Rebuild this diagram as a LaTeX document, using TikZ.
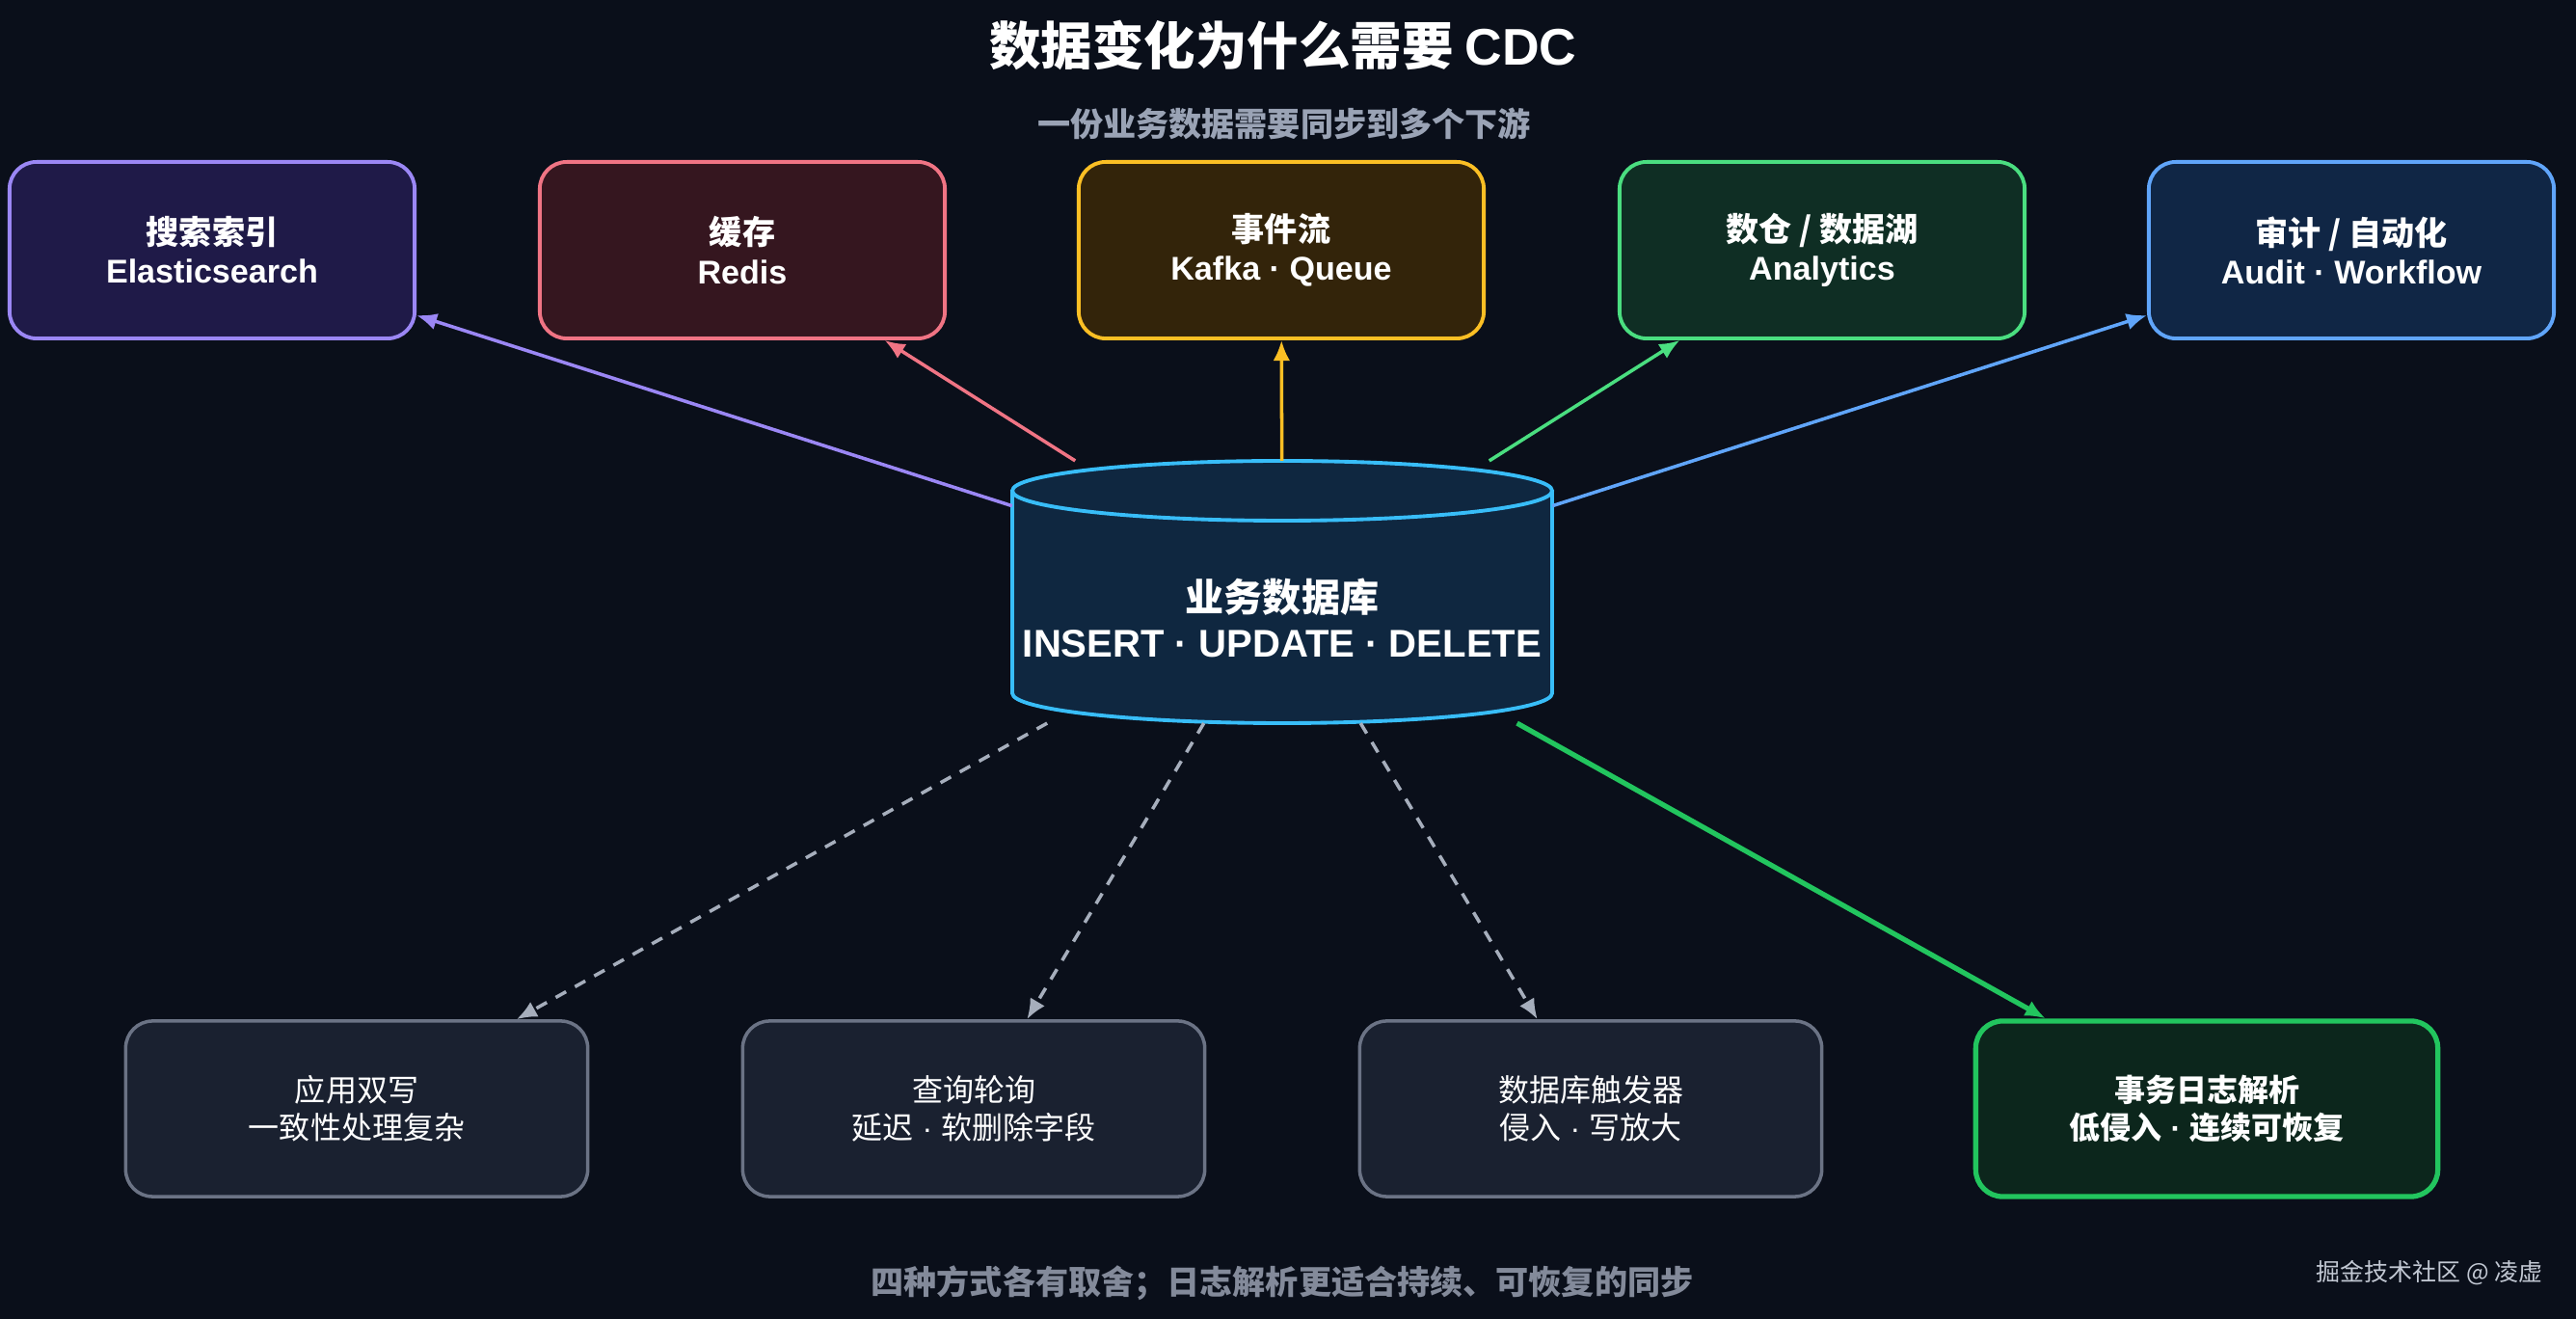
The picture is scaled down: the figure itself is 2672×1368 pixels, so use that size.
\documentclass[tikz,border=0pt]{standalone}
\usepackage{fontspec}
\setmainfont{Noto Sans CJK SC}
\newfontfamily\latinfont{Liberation Sans}
\usetikzlibrary{arrows.meta, positioning, calc}

\definecolor{bgcol}{HTML}{0A0F1A}
\definecolor{subgray}{HTML}{9AA3B5}
\definecolor{searchcol}{HTML}{9B87F5}
\definecolor{searchfill}{HTML}{1F1A48}
\definecolor{cachecol}{HTML}{F07484}
\definecolor{cachefill}{HTML}{35161F}
\definecolor{streamcol}{HTML}{FBBF24}
\definecolor{streamfill}{HTML}{33240A}
\definecolor{lakecol}{HTML}{4ADE80}
\definecolor{lakefill}{HTML}{0F2E24}
\definecolor{auditcol}{HTML}{60A5FA}
\definecolor{auditfill}{HTML}{102645}
\definecolor{dbcol}{HTML}{38BDF8}
\definecolor{dbfill}{HTML}{0F2740}
\definecolor{waycol}{HTML}{6B7385}
\definecolor{wayfill}{HTML}{1A2130}
\definecolor{dashcol}{HTML}{A6AEBC}
\definecolor{logcol}{HTML}{22C55E}
\definecolor{logfill}{HTML}{0C261C}

\newcommand{\sep}{{\latinfont\ ·\ }}

\begin{document}
\begin{tikzpicture}[
    x=0.01cm, y=-0.01cm,
    box/.style={rectangle, draw, rounded corners=0.28cm, line width=1.1pt, minimum width=4.2cm, minimum height=1.83cm, align=center, text=white, font=\bfseries\fontsize{9.7}{11.4}\selectfont},
    waybox/.style={box, draw=waycol, fill=wayfill, minimum width=4.79cm, minimum height=1.82cm, line width=1pt, font=\fontsize{9.1}{11.1}\selectfont},
    logbox/.style={waybox, draw=logcol, fill=logfill, line width=1.5pt, font=\bfseries\fontsize{9.1}{11.1}\selectfont},
    arrow/.style={-{Latex[length=6pt, width=5pt]}, line width=1pt},
    dasharrow/.style={arrow, draw=dashcol, line width=1pt, dash pattern=on 3.5pt off 3pt},
    dbbox/.style={rectangle, minimum width=5.6cm, minimum height=2.72cm, inner sep=0pt, outer sep=0pt}
  ]
    \fill[bgcol] (0,0) rectangle (2672,1368);

    % title
    \node[text=white, font=\bfseries\fontsize{15.2}{18}\selectfont] (title) at (1331,47) {数据变化为什么需要 {\latinfont CDC}};
    \node[text=subgray, font=\bfseries\fontsize{9.7}{11}\selectfont] (subtitle) at (1332,128) {一份业务数据需要同步到多个下游};

    % downstream systems
    \node[box, draw=searchcol, fill=searchfill] (search) at (220,259.5) {搜索索引\\{\latinfont Elasticsearch}};
    \node[box, draw=cachecol, fill=cachefill] (cache) at (770,259.5) {缓存\\{\latinfont Redis}};
    \node[box, draw=streamcol, fill=streamfill] (stream) at (1329,259.5) {事件流\\{\latinfont Kafka · Queue}};
    \node[box, draw=lakecol, fill=lakefill] (lake) at (1890,259.5) {数仓 / 数据湖\\{\latinfont Analytics}};
    \node[box, draw=auditcol, fill=auditfill] (audit) at (2439,259.5) {审计 / 自动化\\{\latinfont Audit · Workflow}};

    % database
    \fill[dbfill] (1050,509) -- (1050,719) arc[start angle=180, end angle=0, x radius=280, y radius=31]
      -- (1610,509) arc[start angle=0, end angle=-180, x radius=280, y radius=31] -- cycle;
    \draw[dbcol, line width=1.1pt] (1050,509) -- (1050,719) arc[start angle=180, end angle=0, x radius=280, y radius=31] -- (1610,509);
    \draw[dbcol, line width=1.1pt] (1330,509) ellipse[x radius=280, y radius=31];
    \node[dbbox] (db) at (1330,614) {};
    \node[text=white, align=center, font=\bfseries\fontsize{11.4}{13.4}\selectfont] (dbtext) at (1330,641) {业务数据库\\{\latinfont INSERT · UPDATE · DELETE}};

    % capture methods
    \node[waybox] (dual) at (370,1150) {应用双写\\一致性处理复杂};
    \node[waybox] (poll) at (1010,1150) {查询轮询\\延迟\sep 软删除字段};
    \node[waybox] (trigger) at (1650,1150) {数据库触发器\\侵入\sep 写放大};
    \node[logbox] (logparse) at (2289,1150) {事务日志解析\\低侵入\sep 连续可恢复};

    \draw[arrow, searchcol] (db) -- (search);
    \draw[arrow, cachecol] (db) -- (cache);
    \draw[arrow, streamcol] (db) -- (stream);
    \draw[arrow, lakecol] (db) -- (lake);
    \draw[arrow, auditcol] (db) -- (audit);

    \draw[dasharrow] (db) -- (dual);
    \draw[dasharrow] (db) -- (poll);
    \draw[dasharrow] (db) -- (trigger);
    \draw[arrow, logcol, line width=1.5pt] (db) -- (logparse);

    % footer
    \node[text=subgray!85!black, font=\bfseries\fontsize{9.7}{11}\selectfont] (note) at (1330,1331) {四种方式各有取舍；日志解析更适合持续、可恢复的同步};
    \node[text=subgray!60!white, font=\fontsize{7.1}{8}\selectfont] (mark) at (2520,1320) {掘金技术社区 @ 凌虚};
\end{tikzpicture}
\end{document}
